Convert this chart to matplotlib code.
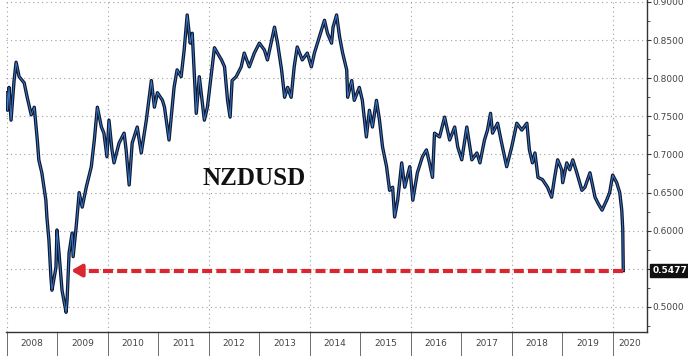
import numpy as np
import matplotlib
matplotlib.use('Agg')
import matplotlib.pyplot as plt
from matplotlib.ticker import FixedLocator

# NZDUSD (decimal year, price)
years = [2008.00, 2008.01, 2008.04, 2008.08, 2008.14, 2008.18, 2008.24, 2008.34, 2008.40, 2008.48,
         2008.54, 2008.60, 2008.63, 2008.69, 2008.77, 2008.79, 2008.83, 2008.87, 2008.89, 2008.97,
         2008.99, 2009.03, 2009.09, 2009.17, 2009.19, 2009.23, 2009.29, 2009.31, 2009.37, 2009.43,
         2009.49, 2009.57, 2009.67, 2009.73, 2009.79, 2009.87, 2009.92, 2009.98, 2010.02, 2010.08,
         2010.12, 2010.22, 2010.32, 2010.36, 2010.42, 2010.48, 2010.58, 2010.66, 2010.76, 2010.86,
         2010.92, 2010.98, 2011.08, 2011.12, 2011.21, 2011.31, 2011.37, 2011.45, 2011.51, 2011.57,
         2011.63, 2011.67, 2011.75, 2011.81, 2011.91, 2011.97, 2012.11, 2012.17, 2012.25, 2012.31,
         2012.37, 2012.42, 2012.46, 2012.54, 2012.64, 2012.70, 2012.80, 2012.90, 2013.00, 2013.10,
         2013.16, 2013.30, 2013.36, 2013.44, 2013.50, 2013.56, 2013.63, 2013.69, 2013.75, 2013.85,
         2013.95, 2014.03, 2014.09, 2014.21, 2014.29, 2014.35, 2014.43, 2014.46, 2014.53, 2014.59,
         2014.65, 2014.73, 2014.75, 2014.83, 2014.88, 2014.98, 2015.04, 2015.12, 2015.18, 2015.24,
         2015.32, 2015.38, 2015.44, 2015.52, 2015.58, 2015.64, 2015.68, 2015.74, 2015.82, 2015.88,
         2015.98, 2016.04, 2016.13, 2016.23, 2016.31, 2016.37, 2016.43, 2016.47, 2016.57, 2016.67,
         2016.77, 2016.87, 2016.93, 2017.01, 2017.11, 2017.21, 2017.31, 2017.37, 2017.46, 2017.52,
         2017.58, 2017.62, 2017.72, 2017.80, 2017.90, 2018.00, 2018.10, 2018.20, 2018.30, 2018.35,
         2018.41, 2018.46, 2018.52, 2018.61, 2018.71, 2018.79, 2018.85, 2018.91, 2018.99, 2019.01,
         2019.09, 2019.15, 2019.21, 2019.29, 2019.39, 2019.45, 2019.55, 2019.65, 2019.71, 2019.79,
         2019.88, 2019.94, 2020.00, 2020.08, 2020.14, 2020.18, 2020.20, 2020.21]
nzdusd = [0.781, 0.758, 0.788, 0.745, 0.797, 0.821, 0.802, 0.794, 0.775, 0.752,
          0.762, 0.719, 0.693, 0.676, 0.640, 0.618, 0.588, 0.539, 0.522, 0.552,
          0.601, 0.571, 0.522, 0.493, 0.509, 0.571, 0.597, 0.566, 0.605, 0.650,
          0.631, 0.657, 0.684, 0.719, 0.762, 0.736, 0.728, 0.697, 0.745, 0.706,
          0.689, 0.715, 0.728, 0.706, 0.660, 0.715, 0.736, 0.702, 0.745, 0.797,
          0.762, 0.781, 0.771, 0.762, 0.719, 0.788, 0.811, 0.802, 0.837, 0.883,
          0.846, 0.859, 0.754, 0.802, 0.745, 0.762, 0.840, 0.833, 0.824, 0.815,
          0.771, 0.749, 0.797, 0.802, 0.815, 0.833, 0.815, 0.833, 0.846, 0.837,
          0.824, 0.867, 0.846, 0.811, 0.775, 0.788, 0.775, 0.815, 0.841, 0.824,
          0.833, 0.815, 0.833, 0.859, 0.876, 0.859, 0.846, 0.867, 0.883, 0.854,
          0.833, 0.811, 0.775, 0.797, 0.771, 0.788, 0.771, 0.723, 0.758, 0.736,
          0.771, 0.745, 0.710, 0.684, 0.653, 0.657, 0.618, 0.640, 0.689, 0.657,
          0.684, 0.640, 0.676, 0.697, 0.706, 0.689, 0.670, 0.728, 0.723, 0.749,
          0.719, 0.736, 0.710, 0.693, 0.736, 0.693, 0.702, 0.689, 0.719, 0.732,
          0.754, 0.728, 0.741, 0.715, 0.684, 0.710, 0.741, 0.732, 0.741, 0.706,
          0.689, 0.702, 0.670, 0.667, 0.657, 0.644, 0.670, 0.693, 0.680, 0.663,
          0.689, 0.680, 0.693, 0.676, 0.653, 0.657, 0.676, 0.644, 0.636, 0.627,
          0.640, 0.650, 0.673, 0.663, 0.650, 0.627, 0.601, 0.5477]

last_value = 0.5477
arrow_to_year = 2009.27
year_labels = [str(y) for y in range(2008, 2021)]
year_label_pos = [y + 0.5 for y in range(2008, 2020)] + [2020.34]
price_ticks = [0.50, 0.55, 0.60, 0.65, 0.70, 0.75, 0.80, 0.85, 0.90]

fig = plt.figure(figsize=(6.88, 3.56), dpi=100)
ax = fig.add_axes([6 / 688, 24 / 356, 641 / 688, 332 / 356])

# price line: dark outline with blue core
ax.plot(years, nzdusd, color='#0e1830', lw=2.4, zorder=3)
ax.plot(years, nzdusd, color='#3a78c8', lw=0.7, zorder=4)

# red dashed arrow back to 2009 low
ax.plot([years[-1], arrow_to_year + 0.12], [last_value, last_value],
        color='#d9262f', lw=3, dashes=(2.4, 1.0), solid_capstyle='butt', zorder=5)
ax.annotate('', xy=(arrow_to_year, last_value), xytext=(arrow_to_year + 0.2, last_value),
            arrowprops=dict(arrowstyle='-|>,head_length=0.6,head_width=0.35',
                            color='#d9262f', lw=3, shrinkA=0, shrinkB=0), zorder=6)

ax.text(2012.90, 0.669, 'NZDUSD', family='Liberation Serif', fontweight='bold',
        fontsize=18, ha='center', va='center', color='#111111')

ax.set_xlim(2007.98, 2020.68)
ax.set_ylim(0.4672, 0.9026)

# right axis (0.5500 is hidden behind the last-price box)
ax.yaxis.tick_right()
ax.set_yticks(price_ticks)
ax.set_yticklabels(['' if v == 0.55 else '%.4f' % v for v in price_ticks])
ax.yaxis.set_minor_locator(FixedLocator(np.arange(0.475, 0.90, 0.05)))
ax.tick_params(axis='y', which='major', length=3, width=0.8, pad=1,
               labelsize=6.5, colors='#333333', labelcolor='#444444')
ax.tick_params(axis='y', which='minor', length=2, width=0.6, colors='#333333')

# bottom axis: year separators, labels at mid-year
ax.set_xticks(np.arange(2008, 2021))
ax.set_xticklabels([])
ax.xaxis.set_minor_locator(FixedLocator(year_label_pos))
ax.xaxis.set_minor_formatter(plt.FixedFormatter(year_labels))
ax.tick_params(axis='x', which='major', length=17, width=0.6, colors='#555555')
ax.tick_params(axis='x', which='minor', length=0, pad=5, labelsize=6.5, labelcolor='#444444')

for s in ['left', 'top']:
    ax.spines[s].set_visible(False)
for s in ['right', 'bottom']:
    ax.spines[s].set_color('#333333')
    ax.spines[s].set_linewidth(1.0)

# dotted grid
for v in price_ticks:
    ax.axhline(v, color='#a0a0a0', lw=0.8, ls=(0, (1, 3)), zorder=1)
for y in range(2008, 2021, 2):
    ax.axvline(y, color='#a0a0a0', lw=0.8, ls=(0, (1, 3)), zorder=1)

# last price box
ax.text(1.008, last_value, '%.4f' % last_value, transform=ax.get_yaxis_transform(),
        color='white', fontsize=6.5, fontweight='bold', va='center', ha='left',
        bbox=dict(boxstyle='square,pad=0.2', fc='#111111', ec='#111111'), clip_on=False)

fig.savefig('out.png', dpi=100)
